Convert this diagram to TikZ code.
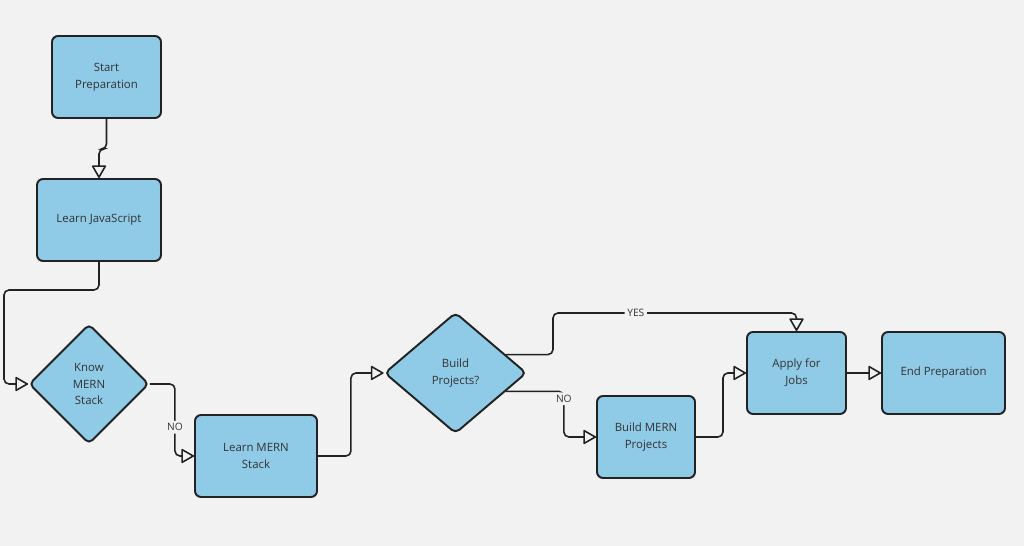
\documentclass[tikz,border=0pt]{standalone}
\usepackage{fontspec}
\setmainfont{Open Sans}
\usepackage{xcolor}
\usetikzlibrary{shapes.geometric,arrows.meta,calc}
\definecolor{bg}{RGB}{242,242,242}
\definecolor{boxblue}{RGB}{143,202,230}
\definecolor{ln}{RGB}{34,34,34}
\definecolor{txt}{RGB}{51,51,51}

\begin{document}
\begin{tikzpicture}[x=0.02cm,y=-0.02cm,
  box/.style={rectangle, draw=ln, line width=1.1pt, fill=boxblue, rounded corners=0.12cm,
    minimum height=1.64cm, align=center, text=txt, font=\fontsize{6.5}{9.6}\selectfont},
  dia/.style={diamond, draw=ln, line width=1.1pt, fill=boxblue, rounded corners=0.1cm,
    inner sep=0pt, align=center, text=txt, font=\fontsize{6.5}{9.6}\selectfont},
  arr/.style={draw=ln, line width=0.9pt, rounded corners=0.1cm,
    -{Triangle[length=0.27cm, width=0.3cm, fill=bg, round=false]}},
  lbl/.style={fill=bg, inner sep=1.5pt, text=txt, font=\fontsize{5.8}{7}\selectfont}]
\useasboundingbox[fill=bg] (0,0) rectangle (1024,546);
%
\node[box, minimum width=2.18cm] (sp) at (106.5,77) {Start\\Preparation};
\node[box, minimum width=2.48cm] (ljs) at (99,220) {Learn JavaScript};
\node[dia, minimum width=2.4cm, minimum height=2.4cm] (km) at (89,384) {Know\\MERN\\Stack};
\node[box, minimum width=2.44cm] (lms) at (256,456) {Learn MERN\\Stack};
\node[dia, minimum width=2.84cm, minimum height=2.42cm] (bp) at (455.5,373) {Build\\Projects?};
\node[box, minimum width=1.96cm] (bmp) at (646,437) {Build MERN\\Projects};
\node[box, minimum width=1.98cm] (ap) at (796.5,373) {Apply for\\Jobs};
\node[box, minimum width=2.46cm] (ep) at (943.5,373) {End Preparation};
%
\coordinate (lft) at (4,290);
\coordinate (ytop) at (553,313);
\coordinate (yst) at ($(bp.east)!0.3!(bp.north)$);
\coordinate (nst) at ($(bp.east)!0.3!(bp.south)$);
%
\draw[arr] (sp.south) -- ++(0,30) -| (ljs.north);
\draw[arr] (ljs.south) |- (lft) |- (km.west);
\draw[arr] (km.east) -- ++(25,0) |- node[lbl, pos=0.3] (no1) {NO} (lms.west);
\draw[arr] (lms.east) -- ++(33,0) |- (bp.west);
\draw[arr] (yst) -| (ytop) -| node[lbl, pos=0.17] (yes) {YES} (ap.north);
\draw[arr] (nst) -- ++(58,0) |- node[lbl, pos=0.08] (no2) {NO} (bmp.west);
\draw[arr] (bmp.east) -- ++(27,0) |- (ap.west);
\draw[arr] (ap) -- (ep);
\end{tikzpicture}
\end{document}
